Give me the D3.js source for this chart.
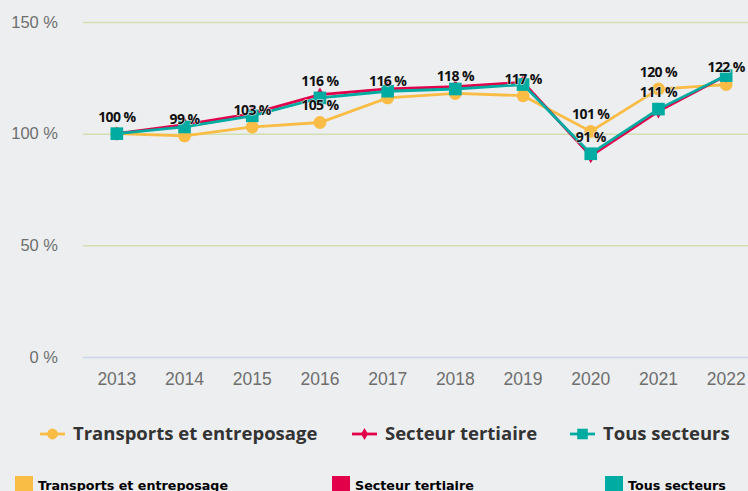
<!DOCTYPE html>
<html lang="fr">
  <head>
    <meta charset="UTF-8" />
    <title>Indice</title>
    <style>
      body { margin: 0; background: #edeef0; overflow: hidden; }
      svg { display: block; font-family: "Open Sans", sans-serif; }
      .line-path { fill: none; stroke-width: 2.8; }
      .tick-y text, .tick-x text { fill: #6e6e6e; }
    </style>
  </head>
  <body>
    <script src="https://d3js.org/d3.v7.min.js"></script>
    <script>
      const years = ["2013", "2014", "2015", "2016", "2017", "2018", "2019", "2020", "2021", "2022"];
      const transports = [100, 99, 103, 105, 116, 118, 117, 101, 120, 122];
      const tertiaire = [100, 104, 109, 117.5, 120, 121, 123, 90, 110, 126];
      const tous = [100, 103, 108, 116, 119, 120, 122, 91, 111, 126];
      const yTicks = [0, 50, 100, 150];

      const series = [
        { name: "Transports et entreposage", values: transports, color: "#f9bc45", symbol: d3.symbolCircle, size: 130, prio: 0 },
        { name: "Secteur tertiaire", values: tertiaire, color: "#e2004a", symbol: d3.symbolDiamond, size: 60, prio: 2 },
        { name: "Tous secteurs", values: tous, color: "#00aba1", symbol: d3.symbolSquare, size: 160, prio: 1 },
      ];

      const width = 748;
      const height = 491;

      const svg = d3.select("body").append("svg")
        .attr("width", width)
        .attr("height", height);

      const x = d3.scaleBand().domain(years).range([83, 760]);
      const y = d3.scaleLinear().domain([0, 150]).range([357, 22]);
      const cx = (d) => x(d) + x.bandwidth() / 2;

      // grid
      svg.append("g").selectAll("line")
        .data(yTicks)
        .join("line")
        .attr("x1", 83).attr("x2", width)
        .attr("y1", (d) => y(d) + 0.5).attr("y2", (d) => y(d) + 0.5)
        .attr("stroke", (d) => (d === 0 ? "#ccd6eb" : "#d2dfb0"))
        .attr("stroke-width", 1.5);

      const yAxis = d3.axisLeft(y).tickValues(yTicks).tickSize(0).tickPadding(0)
        .tickFormat((d) => d + " %");
      svg.append("g")
        .attr("class", "tick-y")
        .attr("transform", "translate(58,0)")
        .call(yAxis)
        .call((g) => g.select(".domain").remove())
        .selectAll("text").attr("font-size", 16.5).attr("dy", "0.32em");

      const xAxis = d3.axisBottom(x).tickSize(0).tickPadding(0);
      svg.append("g")
        .attr("class", "tick-x")
        .attr("transform", "translate(0,373)")
        .call(xAxis)
        .call((g) => g.select(".domain").remove())
        .selectAll("text").attr("font-size", 17.5).attr("dy", "0.71em");

      const line = d3.line()
        .x((d, i) => cx(years[i]))
        .y((d) => y(d));

      const groups = svg.append("g").selectAll("g")
        .data(series)
        .join("g");

      groups.append("path")
        .attr("class", "line-path")
        .attr("d", (s) => line(s.values))
        .attr("stroke", (s) => s.color);

      groups.selectAll("path.mark")
        .data((s) => s.values.map((v, i) => ({ v, i, s })))
        .join("path")
        .attr("class", "mark")
        .attr("transform", (d) => `translate(${cx(years[d.i])},${y(d.v)})`)
        .attr("d", (d) => d3.symbol(d.s.symbol, d.s.size)())
        .attr("fill", (d) => d.s.color);

      // data labels with simple overlap hiding
      const labels = [];
      series.slice().sort((a, b) => a.prio - b.prio).forEach((s) => {
        s.values.forEach((v, i) => {
          labels.push({ text: Math.round(v) + " %", x: cx(years[i]), y: y(v) - 17 });
        });
      });
      const kept = [];
      labels.forEach((l) => {
        const w = 44, h = 16;
        const clash = kept.some((k) => Math.abs(k.x - l.x) < w && Math.abs(k.y - l.y) < h);
        if (!clash) kept.push(l);
      });
      svg.append("g").selectAll("text")
        .data(kept)
        .join("text")
        .attr("x", (d) => d.x)
        .attr("y", (d) => d.y)
        .attr("dy", "0.35em")
        .attr("text-anchor", "middle")
        .attr("font-size", 14)
        .attr("font-weight", "bold")
        .attr("letter-spacing", -0.6)
        .attr("fill", "#111")
        .attr("stroke", "#edeef0")
        .attr("stroke-width", 1)
        .attr("paint-order", "stroke")
        .text((d) => d.text);

      // legend
      const legendX = [40, 352, 570];
      const leg = svg.append("g").selectAll("g")
        .data(series)
        .join("g")
        .attr("transform", (d, i) => `translate(${legendX[i]},434)`);
      leg.append("line")
        .attr("x1", 0).attr("x2", 25)
        .attr("stroke", (d) => d.color)
        .attr("stroke-width", 2.8);
      leg.append("path")
        .attr("transform", "translate(12.5,0)")
        .attr("d", (d) => d3.symbol(d.symbol, d.size * 0.7)())
        .attr("fill", (d) => d.color);
      leg.append("text")
        .attr("x", 33)
        .attr("dy", "0.35em")
        .attr("font-size", 18.5)
        .attr("font-weight", "bold")
        .attr("fill", "#333")
        .text((d) => d.name);

      // bottom key
      const keyX = [15, 332, 605];
      const key = svg.append("g").selectAll("g")
        .data(series)
        .join("g")
        .attr("transform", (d, i) => `translate(${keyX[i]},476)`);
      key.append("rect")
        .attr("width", 18).attr("height", 18)
        .attr("fill", (d) => d.color);
      key.append("text")
        .attr("x", 23)
        .attr("y", 14)
        .attr("font-family", "DejaVu Sans, sans-serif")
        .attr("font-size", 12.7)
        .attr("font-weight", "bold")
        .attr("fill", "#000")
        .text((d) => d.name);
    </script>
  </body>
</html>
